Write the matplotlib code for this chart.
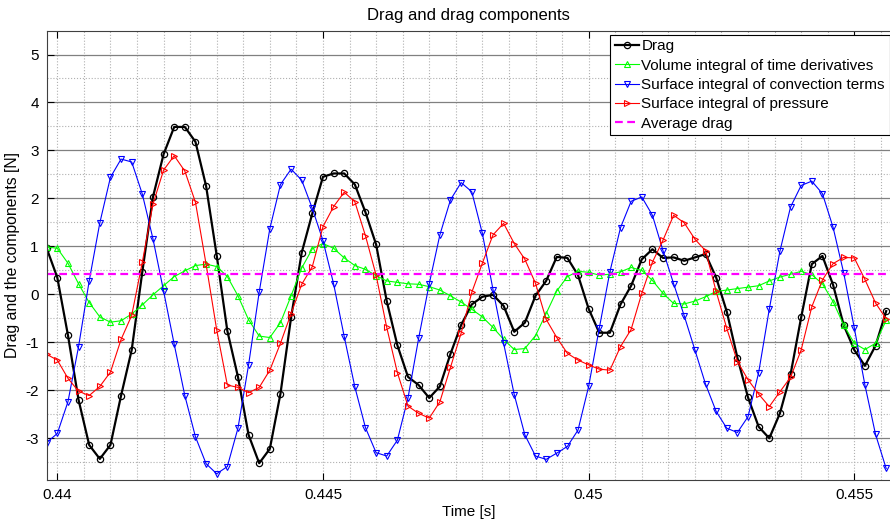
import numpy as np
import matplotlib
matplotlib.use("Agg")
from matplotlib import pyplot as plt
from matplotlib.ticker import MultipleLocator, FuncFormatter

plt.rcParams['font.family'] = ['Liberation Sans', 'DejaVu Sans']
plt.rcParams['axes.unicode_minus'] = False

# sample times: 80 samples, 0.2 ms apart, first one at 0.4398 s
t_first = 0.4398
t_step = 0.0002
n_samples = 80
time = t_first + t_step * np.arange(n_samples)

drag = [0.96, 0.35, -0.85, -2.20, -3.14, -3.43, -3.14, -2.11, -1.16, 0.47,
        2.03, 2.92, 3.49, 3.49, 3.18, 2.26, 0.81, -0.76, -1.72, -2.93,
        -3.52, -3.22, -2.07, -0.48, 0.87, 1.69, 2.45, 2.52, 2.52, 2.29,
        1.71, 1.04, -0.14, -1.06, -1.72, -1.89, -2.16, -1.92, -1.24, -0.64,
        -0.21, -0.05, -0.01, -0.24, -0.78, -0.59, -0.03, 0.28, 0.78, 0.76,
        0.40, -0.30, -0.80, -0.80, -0.21, 0.18, 0.73, 0.94, 0.76, 0.77,
        0.70, 0.77, 0.84, 0.35, -0.36, -1.32, -2.15, -2.76, -3.00, -2.48,
        -1.67, -0.48, 0.63, 0.80, 0.20, -0.64, -1.16, -1.49, -1.07, -0.35]

vol_time_deriv = [0.99, 0.96, 0.65, 0.22, -0.17, -0.47, -0.58, -0.55, -0.41, -0.22,
                  -0.01, 0.18, 0.37, 0.49, 0.60, 0.63, 0.58, 0.37, -0.03, -0.53,
                  -0.87, -0.90, -0.59, -0.03, 0.55, 0.95, 1.06, 0.96, 0.76, 0.60,
                  0.52, 0.39, 0.28, 0.25, 0.22, 0.21, 0.16, 0.09, -0.03, -0.16,
                  -0.31, -0.47, -0.69, -0.94, -1.15, -1.13, -0.86, -0.40, 0.07, 0.37,
                  0.48, 0.46, 0.40, 0.42, 0.47, 0.56, 0.50, 0.29, 0.02, -0.19,
                  -0.20, -0.14, -0.05, 0.06, 0.09, 0.12, 0.15, 0.18, 0.28, 0.36,
                  0.42, 0.48, 0.41, 0.22, -0.15, -0.64, -1.02, -1.15, -1.02, -0.54]

surf_convection = [-3.09, -2.90, -2.24, -1.09, 0.28, 1.49, 2.44, 2.82, 2.76, 2.09,
                   1.16, 0.07, -1.04, -2.11, -2.97, -3.53, -3.74, -3.59, -2.79, -1.47,
                   0.05, 1.37, 2.29, 2.61, 2.38, 1.79, 1.12, 0.22, -0.88, -1.93,
                   -2.78, -3.30, -3.37, -3.04, -2.16, -0.92, 0.22, 1.24, 1.97, 2.33,
                   2.14, 1.27, 0.10, -1.02, -2.09, -2.93, -3.37, -3.44, -3.31, -3.17,
                   -2.83, -1.92, -0.71, 0.47, 1.39, 1.94, 2.03, 1.65, 0.91, 0.22,
                   -0.45, -1.16, -1.87, -2.44, -2.79, -2.88, -2.55, -1.63, -0.31, 0.90,
                   1.82, 2.27, 2.36, 2.10, 1.40, 0.45, -0.70, -1.89, -2.92, -3.63]

surf_pressure = [-1.25, -1.37, -1.75, -2.02, -2.11, -1.92, -1.62, -0.94, -0.44, 0.67,
                 1.88, 2.59, 2.89, 2.57, 1.92, 0.63, -0.74, -1.89, -1.94, -2.05,
                 -1.94, -1.58, -1.02, -0.40, 0.21, 0.58, 1.41, 1.83, 2.13, 1.93,
                 1.22, 0.40, -0.69, -1.63, -2.33, -2.48, -2.58, -2.24, -1.52, -0.81,
                 0.04, 0.65, 1.24, 1.48, 1.06, 0.73, 0.23, -0.52, -0.90, -1.23,
                 -1.37, -1.47, -1.56, -1.58, -1.09, -0.73, 0.02, 0.67, 1.13, 1.65,
                 1.49, 1.15, 0.91, 0.06, -0.71, -1.40, -1.78, -2.08, -2.34, -2.03,
                 -1.73, -1.16, -0.26, 0.30, 0.64, 0.77, 0.76, 0.31, -0.18, -0.51]

avg_drag = 0.42

labels = ["Drag",
          "Volume integral of time derivatives",
          "Surface integral of convection terms",
          "Surface integral of pressure",
          "Average drag"]

fig = plt.figure(figsize=(8.9, 5.19), dpi=100)
ax = fig.add_axes([47 / 890, 1 - 480 / 519, 1 - 47 / 890, 449 / 519])

ax.plot(time, drag, color='k', lw=1.6, marker='o', ms=4.5, mfc='none', mew=0.9, label=labels[0])
ax.plot(time, vol_time_deriv, color=(0, 1, 0), lw=0.8, marker='^', ms=4.5, mfc='none', mew=0.8, label=labels[1])
ax.plot(time, surf_convection, color=(0, 0, 1), lw=0.8, marker='v', ms=4.5, mfc='none', mew=0.8, label=labels[2])
ax.plot(time, surf_pressure, color=(1, 0, 0), lw=0.8, marker='>', ms=4.5, mfc='none', mew=0.8, label=labels[3])
ax.axhline(avg_drag, color=(1, 0, 1), lw=1.6, ls=(0, (3.5, 2)), label=labels[4])

ax.set_xlim(0.439806, 0.455672)
ax.set_ylim(-3.87, 5.49)

ax.xaxis.set_major_locator(MultipleLocator(0.005))
ax.xaxis.set_minor_locator(MultipleLocator(0.0005))
ax.yaxis.set_major_locator(MultipleLocator(1))
ax.yaxis.set_minor_locator(MultipleLocator(0.5))
ax.xaxis.set_major_formatter(FuncFormatter(lambda v, p: '%g' % round(v, 4)))
ax.yaxis.set_major_formatter(FuncFormatter(lambda v, p: '%g' % v))

ax.grid(axis='y', which='major', color='#808080', ls='-', lw=0.9)
ax.grid(axis='y', which='minor', color='#b0b0b0', ls=':', lw=0.8)
ax.grid(axis='x', which='both', color='#b0b0b0', ls=':', lw=0.8)
ax.set_axisbelow(True)

ax.tick_params(which='major', direction='in', length=5, width=0.8, labelsize=11,
               top=True, right=False, pad=6)
ax.tick_params(which='minor', length=0)
for s in ['left', 'bottom', 'top']:
    ax.spines[s].set_color('#404040')
    ax.spines[s].set_linewidth(0.8)
ax.spines['right'].set_visible(False)

ax.set_title("Drag and drag components", fontsize=12, pad=8)
ax.set_xlabel("Time [s]", fontsize=11, labelpad=2)
ax.set_ylabel("Drag and the components [N]", fontsize=11.3, labelpad=4)

leg = ax.legend(loc='upper left', bbox_to_anchor=(0.668, 0.992), fontsize=11,
                frameon=True, fancybox=False, framealpha=1, edgecolor='k',
                handlelength=1.6, handletextpad=0.15, labelspacing=0.35,
                borderpad=0.3, borderaxespad=0)
leg.get_frame().set_linewidth(0.8)

fig.savefig("out.png", dpi=100)
